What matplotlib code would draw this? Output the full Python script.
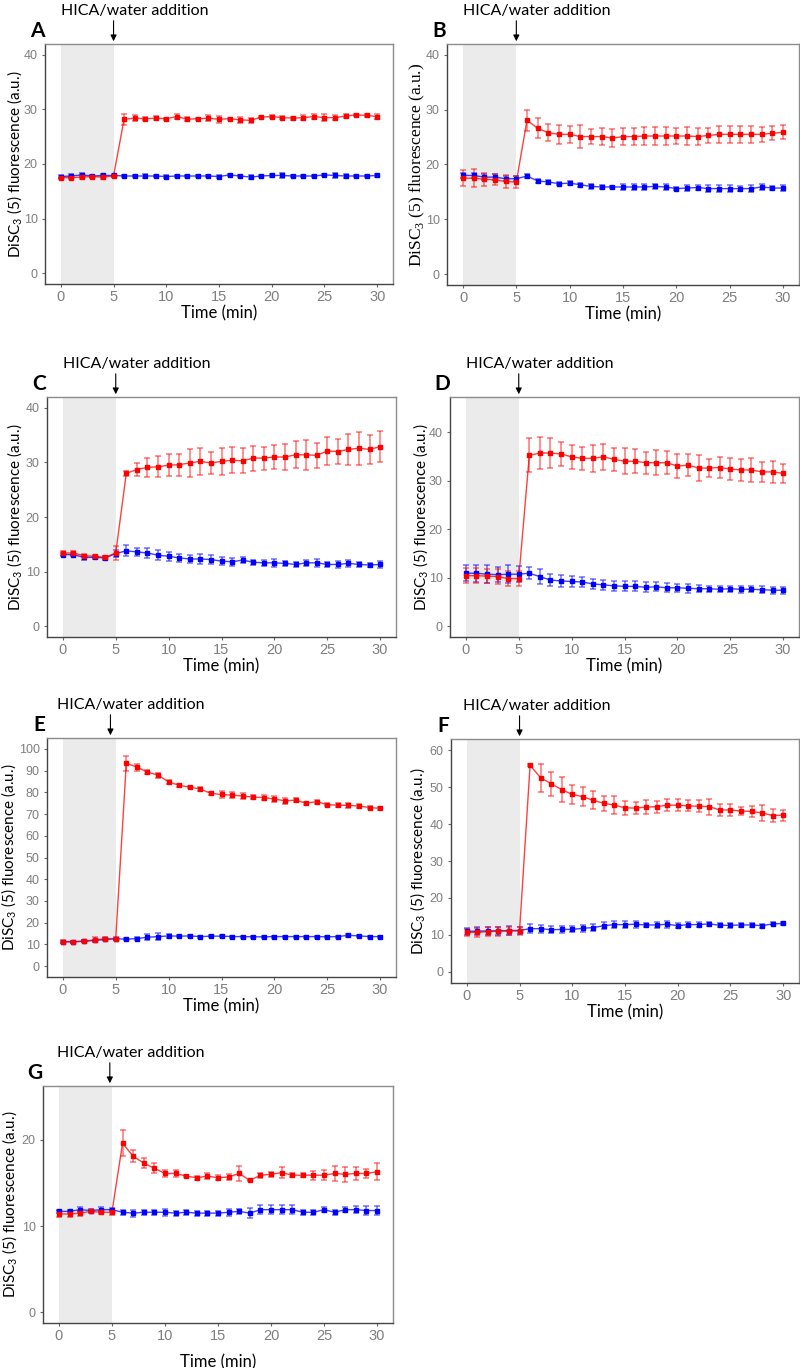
import matplotlib
matplotlib.use('Agg')
import matplotlib.pyplot as plt

plt.rcParams['font.family'] = ['Lato', 'DejaVu Sans']

# time points (min)
t = list(range(31))

# panel A
a_red = [17.5, 17.5, 17.6, 17.7, 17.6, 17.8, 28.2, 28.4, 28.3, 28.4, 28.3, 28.7, 28.2, 28.3, 28.4, 28.2,
         28.3, 28.1, 28.0, 28.6, 28.7, 28.5, 28.4, 28.5, 28.7, 28.5, 28.5, 28.8, 29.0, 28.9, 28.7]
a_red_err = [0.2, 0.3, 0.3, 0.2, 0.4, 0.2, 1.0, 0.5, 0.3, 0.4, 0.2, 0.5, 0.4, 0.2, 0.5, 0.6,
             0.2, 0.6, 0.4, 0.2, 0.2, 0.3, 0.3, 0.4, 0.4, 0.6, 0.5, 0.3, 0.2, 0.2, 0.4]
a_blue = [17.7, 17.8, 18.0, 17.8, 17.9, 17.9, 17.8, 17.8, 17.8, 17.8, 17.7, 17.8, 17.8, 17.8, 17.8, 17.7,
          18.0, 17.8, 17.6, 17.8, 17.9, 17.9, 17.8, 17.8, 17.8, 18.0, 17.9, 17.8, 17.8, 17.8, 17.9]
a_blue_err = [0.2, 0.3, 0.4, 0.2, 0.3, 0.2, 0.2, 0.2, 0.4, 0.2, 0.2, 0.2, 0.2, 0.2, 0.2, 0.2,
              0.2, 0.2, 0.3, 0.2, 0.2, 0.4, 0.2, 0.2, 0.2, 0.2, 0.5, 0.3, 0.2, 0.2, 0.2]

# panel B
b_red = [17.5, 17.5, 17.3, 17.2, 16.9, 16.8, 28.1, 26.6, 25.8, 25.5, 25.5, 25.1, 25.1, 25.1, 24.8, 25.1,
         25.1, 25.2, 25.2, 25.2, 25.2, 25.2, 25.1, 25.3, 25.5, 25.5, 25.5, 25.5, 25.5, 25.7, 25.9]
b_red_err = [1.5, 1.6, 1.2, 1.0, 1.1, 1.1, 1.9, 1.8, 1.6, 1.7, 1.6, 2.1, 1.3, 1.6, 1.6, 1.6,
             1.5, 1.6, 1.6, 1.6, 1.4, 1.6, 1.5, 1.3, 1.5, 1.6, 1.5, 1.6, 1.4, 1.3, 1.3]
b_blue = [18.0, 18.0, 17.7, 17.7, 17.4, 17.4, 17.9, 17.0, 16.8, 16.5, 16.6, 16.3, 16.0, 15.9, 15.9, 15.9,
          15.9, 15.9, 16.0, 15.9, 15.6, 15.7, 15.8, 15.6, 15.6, 15.6, 15.6, 15.6, 15.9, 15.7, 15.7]
b_blue_err = [0.4, 0.5, 0.5, 0.5, 0.5, 0.5, 0.3, 0.4, 0.4, 0.3, 0.3, 0.4, 0.4, 0.3, 0.2, 0.6,
              0.6, 0.5, 0.4, 0.5, 0.3, 0.5, 0.5, 0.6, 0.6, 0.7, 0.5, 0.6, 0.6, 0.4, 0.5]

# panel C
c_red = [13.4, 13.4, 12.9, 12.8, 12.6, 13.4, 28.0, 28.7, 29.1, 29.2, 29.5, 29.6, 29.9, 30.2, 29.9, 30.2,
         30.4, 30.3, 30.8, 30.8, 31.0, 31.0, 31.4, 31.4, 31.3, 32.1, 32.0, 32.4, 32.6, 32.4, 32.9]
c_red_err = [0.3, 0.3, 0.3, 0.3, 0.3, 1.3, 0.5, 1.2, 1.8, 1.9, 2.0, 2.0, 2.6, 2.5, 2.0, 2.5,
             2.4, 2.3, 2.3, 2.1, 2.2, 2.3, 2.5, 2.7, 2.3, 2.5, 2.3, 2.8, 3.0, 2.6, 2.8]
c_blue = [13.1, 13.1, 12.6, 12.6, 12.5, 13.3, 13.8, 13.6, 13.4, 13.0, 12.8, 12.5, 12.3, 12.3, 12.2, 11.9,
          11.8, 12.1, 11.7, 11.6, 11.6, 11.5, 11.3, 11.6, 11.6, 11.3, 11.3, 11.5, 11.3, 11.2, 11.3]
c_blue_err = [0.3, 0.3, 0.4, 0.3, 0.3, 0.6, 1.0, 0.8, 1.0, 0.9, 0.8, 0.8, 0.7, 0.9, 0.8, 0.7,
              0.7, 0.6, 0.5, 0.5, 0.7, 0.5, 0.5, 0.5, 0.7, 0.5, 0.6, 0.6, 0.5, 0.3, 0.6]

# panel D
d_red = [10.4, 10.4, 10.3, 10.2, 9.8, 9.8, 35.2, 35.7, 35.7, 35.5, 34.9, 34.6, 34.6, 34.9, 34.4, 34.0,
         34.0, 33.7, 33.7, 33.7, 33.0, 33.2, 32.6, 32.6, 32.7, 32.4, 32.2, 32.2, 31.8, 31.8, 31.5]
d_red_err = [1.5, 1.6, 1.5, 1.5, 1.5, 1.5, 3.5, 3.4, 3.0, 2.5, 2.4, 2.4, 2.8, 2.7, 2.4, 2.7,
             2.5, 2.3, 2.6, 2.4, 2.4, 2.3, 2.6, 1.9, 2.1, 2.3, 2.2, 2.4, 2.1, 2.2, 2.0]
d_blue = [10.9, 10.9, 10.7, 10.6, 10.7, 10.7, 10.9, 10.2, 9.5, 9.3, 9.2, 9.1, 8.7, 8.5, 8.3, 8.2,
          8.2, 8.0, 8.1, 7.9, 7.9, 7.8, 7.7, 7.7, 7.6, 7.7, 7.6, 7.6, 7.5, 7.4, 7.4]
d_blue_err = [1.6, 1.8, 1.8, 1.6, 1.9, 1.6, 1.2, 1.5, 1.3, 1.3, 1.2, 1.1, 1.1, 1.1, 1.0, 1.0,
              1.0, 1.0, 0.9, 0.9, 0.8, 0.9, 0.7, 0.6, 0.6, 0.6, 0.7, 0.6, 0.7, 0.7, 0.7]

# panel E
e_red = [11.3, 11.2, 11.5, 12.1, 12.6, 12.7, 93.4, 91.6, 89.3, 87.9, 84.8, 83.2, 82.4, 81.5, 79.5, 79.0,
         78.7, 78.3, 77.8, 77.6, 76.9, 76.1, 76.4, 75.0, 75.7, 74.3, 74.1, 74.0, 73.7, 73.0, 72.6]
e_red_err = [0.5, 0.5, 0.5, 1.2, 0.7, 0.7, 3.5, 1.6, 0.8, 1.2, 0.8, 0.7, 0.6, 0.8, 0.6, 1.6,
             1.3, 1.3, 1.0, 1.0, 1.2, 1.3, 0.8, 0.7, 0.9, 0.8, 1.0, 1.3, 0.8, 0.7, 0.6]
e_blue = [11.2, 11.2, 11.5, 11.8, 12.3, 12.6, 12.4, 12.7, 13.3, 13.6, 13.9, 13.8, 13.9, 13.6, 13.8, 13.8,
          13.6, 13.6, 13.5, 13.5, 13.6, 13.6, 13.6, 13.6, 13.6, 13.5, 13.6, 14.2, 13.9, 13.6, 13.6]
e_blue_err = [0.4, 0.4, 0.4, 0.4, 0.5, 0.5, 0.5, 0.6, 1.4, 1.6, 0.8, 0.5, 0.5, 0.5, 0.5, 0.5,
              0.5, 0.5, 0.5, 0.5, 0.5, 0.5, 0.5, 0.5, 0.5, 0.5, 0.5, 0.8, 0.5, 0.5, 0.5]

# panel F
f_red = [10.7, 10.7, 10.9, 11.0, 11.1, 11.1, 55.9, 52.5, 50.9, 49.3, 48.0, 47.4, 46.4, 45.6, 45.1, 44.4,
         44.3, 44.6, 44.7, 45.1, 45.1, 44.9, 44.8, 44.7, 43.8, 43.8, 43.5, 43.4, 43.0, 42.3, 42.4]
f_red_err = [1.0, 1.3, 1.3, 1.2, 1.1, 1.1, 0.3, 3.8, 3.3, 3.4, 2.5, 2.5, 2.4, 2.1, 2.4, 1.9,
             1.6, 1.9, 1.6, 1.7, 1.7, 1.5, 1.6, 2.2, 1.5, 1.7, 1.0, 1.5, 2.1, 1.8, 1.5]
f_blue = [11.0, 11.0, 11.1, 11.1, 11.2, 11.2, 11.7, 11.7, 11.4, 11.5, 11.5, 11.8, 12.0, 12.5, 12.8, 12.8,
          12.9, 12.7, 12.7, 12.9, 12.5, 12.8, 12.8, 13.0, 12.6, 12.6, 12.7, 12.7, 12.5, 13.0, 13.1]
f_blue_err = [1.0, 1.1, 1.1, 1.1, 1.1, 1.0, 1.2, 1.1, 0.9, 0.9, 0.8, 0.9, 0.9, 1.0, 0.9, 0.9,
              1.0, 0.6, 0.9, 0.9, 0.7, 0.7, 0.7, 0.5, 0.5, 0.6, 0.6, 0.5, 0.5, 0.4, 0.3]

# panel G
g_red = [11.4, 11.4, 11.5, 11.7, 11.6, 11.6, 19.6, 18.1, 17.3, 16.7, 16.1, 16.1, 15.8, 15.6, 15.8, 15.6,
         15.7, 16.1, 15.3, 15.9, 16.0, 16.2, 15.9, 15.9, 15.9, 15.9, 16.1, 16.0, 16.1, 16.1, 16.3]
g_red_err = [0.3, 0.4, 0.3, 0.2, 0.2, 0.3, 1.5, 0.7, 0.6, 0.6, 0.4, 0.4, 0.1, 0.2, 0.3, 0.3,
             0.3, 0.9, 0.1, 0.3, 0.3, 0.6, 0.2, 0.2, 0.5, 0.6, 0.9, 0.9, 0.7, 0.5, 1.0]
g_blue = [11.7, 11.7, 11.9, 11.8, 11.9, 11.9, 11.6, 11.5, 11.6, 11.6, 11.6, 11.5, 11.6, 11.5, 11.5, 11.5,
          11.6, 11.7, 11.5, 11.9, 11.9, 11.9, 11.9, 11.6, 11.6, 11.9, 11.6, 11.9, 11.9, 11.8, 11.8]
g_blue_err = [0.2, 0.2, 0.3, 0.2, 0.3, 0.2, 0.3, 0.4, 0.3, 0.3, 0.4, 0.3, 0.3, 0.3, 0.3, 0.3,
              0.4, 0.3, 0.6, 0.5, 0.5, 0.5, 0.5, 0.3, 0.3, 0.3, 0.3, 0.3, 0.4, 0.5, 0.5]

W, H = 800, 1368
GREY = '#7f7f7f'


def draw_panel(fig, box, letter, red, red_err, blue, blue_err, ylim, yticks,
               ylab_x, arrow_x=5, text_dx=0, xlab_pad=1, serif_label=False):
    """box: (left, top, right, bottom) in pixels, ylab_x: label centre in pixels"""
    l, top, r, b = box
    ax = fig.add_axes([l / W, 1 - b / H, (r - l) / W, (b - top) / H])
    ax.axvspan(0, 5, color='#ebebeb', lw=0, zorder=0)

    for y, err, col in [(blue, blue_err, 'blue'), (red, red_err, 'red')]:
        ax.errorbar(t, y, yerr=err, fmt='none', ecolor=col, alpha=0.55,
                    elinewidth=1.1, capsize=2, capthick=1.1, zorder=2)
        ax.plot(t, y, color=col, lw=1.0, alpha=0.75, zorder=3)
        ax.plot(t, y, ls='none', marker='s', ms=2.4, color=col, zorder=4)

    ax.set_xlim(-1.5, 31.5)
    ax.set_ylim(*ylim)
    ax.set_xticks([0, 5, 10, 15, 20, 25, 30])
    ax.set_yticks(yticks)
    ax.tick_params(labelcolor=GREY, color='#666666', length=2.2, width=0.8,
                   labelfontfamily='Liberation Sans')
    ax.tick_params(axis='x', labelsize=10.5, pad=2)
    ax.tick_params(axis='y', labelsize=9, pad=3)
    for s in ['top', 'right']:
        ax.spines[s].set_color('#8c8c8c')
        ax.spines[s].set_linewidth(1.0)
    for s in ['left', 'bottom']:
        ax.spines[s].set_color('#444444')
        ax.spines[s].set_linewidth(1.0)

    ax.set_xlabel('Time (min)', fontsize=12, labelpad=xlab_pad)
    ylab = r'DiSC$_\mathregular{3}$ (5) fluorescence (a.u.)'
    if serif_label:
        ax.set_ylabel(ylab, fontsize=12.5, family='Liberation Serif')
    else:
        ax.set_ylabel(ylab, fontsize=11)
    ax.yaxis.label.set_va('center')
    ax.yaxis.set_label_coords((ylab_x - l) / (r - l), 0.5)

    # addition arrow + label
    ax.annotate('', xy=(arrow_x, 1), xycoords=('data', 'axes fraction'),
                xytext=(0, 26), textcoords='offset pixels',
                arrowprops=dict(arrowstyle='-|>', color='black', lw=0.8,
                                mutation_scale=9),
                annotation_clip=False)
    ax.annotate('HICA/water addition', xy=(0, 1),
                xycoords=('data', 'axes fraction'), xytext=(text_dx, 33),
                textcoords='offset pixels', ha='left', va='center',
                fontsize=11.5, annotation_clip=False)
    fig.text((l - 8) / W, 1 - (top - 13) / H, letter, fontsize=15,
             fontweight='bold', ha='center', va='center')
    return ax


fig = plt.figure(figsize=(W / 100, H / 100), dpi=100)

draw_panel(fig, (45, 44, 393, 284), 'A', a_red, a_red_err, a_blue, a_blue_err,
           (-2, 42), [0, 10, 20, 30, 40], ylab_x=15)
draw_panel(fig, (447, 44, 799, 285), 'B', b_red, b_red_err, b_blue, b_blue_err,
           (-2, 42), [0, 10, 20, 30, 40], ylab_x=417, serif_label=True)
draw_panel(fig, (47, 397, 396, 637), 'C', c_red, c_red_err, c_blue, c_blue_err,
           (-2, 42), [0, 10, 20, 30, 40], ylab_x=15)
draw_panel(fig, (450, 397, 799, 637), 'D', d_red, d_red_err, d_blue, d_blue_err,
           (-2.25, 47.25), [0, 10, 20, 30, 40], ylab_x=421)
draw_panel(fig, (47, 738, 396, 977), 'E', e_red, e_red_err, e_blue, e_blue_err,
           (-5, 105), list(range(0, 101, 10)), ylab_x=9, arrow_x=4.5, text_dx=-6)
draw_panel(fig, (451, 739, 799, 983), 'F', f_red, f_red_err, f_blue, f_blue_err,
           (-3, 63), [0, 10, 20, 30, 40, 50, 60], ylab_x=418, text_dx=-4)
draw_panel(fig, (43, 1086, 393, 1323), 'G', g_red, g_red_err, g_blue, g_blue_err,
           (-1.25, 26.25), [0, 10, 20], ylab_x=10, arrow_x=4.8, text_dx=-2,
           xlab_pad=8)

plt.savefig('out.png', dpi=100)
